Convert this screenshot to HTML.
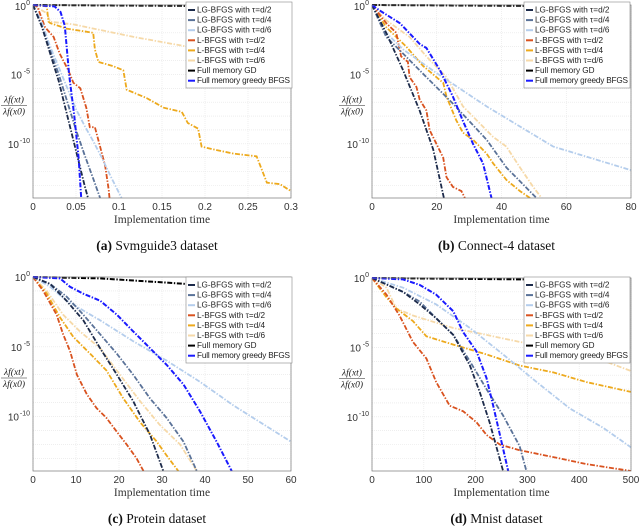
<!DOCTYPE html>
<html><head><meta charset="utf-8">
<style>
body{margin:0;background:#fff;width:640px;height:528px;overflow:hidden}
svg{display:block}
text{font-family:"Liberation Sans",sans-serif}
.serif{font-family:"Liberation Serif",serif}
</style></head>
<body>
<svg id="fig" width="640" height="528" viewBox="0 0 640 528"></svg>
<script>
// ---- data: each series is [x, log10(ratio)] pairs ----
const seriesNames = ["LG-BFGS with \u03c4=d/2","LG-BFGS with \u03c4=d/4","LG-BFGS with \u03c4=d/6","L-BFGS with \u03c4=d/2","L-BFGS with \u03c4=d/4","L-BFGS with \u03c4=d/6","Full memory GD","Full memory greedy BFGS"];
const seriesKeys = ["lg-d2","lg-d4","lg-d6","l-d2","l-d4","l-d6","gd","greedy"];

const aXTicks = [0,0.05,0.1,0.15,0.2,0.25,0.3];
const aLG2 = [[0,0],[0.01,-1.5],[0.02,-3.5],[0.03,-5.5],[0.04,-8],[0.05,-10.5],[0.06,-13],[0.064,-13.9]];
const aLG4 = [[0,0],[0.01,-1.5],[0.02,-3.3],[0.03,-5],[0.04,-7],[0.05,-9],[0.06,-10.8],[0.07,-12.5],[0.078,-13.9]];
const aLG6 = [[0,0],[0.01,-1.2],[0.02,-3],[0.03,-4.5],[0.04,-6],[0.05,-7.5],[0.06,-8.7],[0.07,-9.8],[0.08,-11],[0.09,-12.3],[0.103,-13.9]];
const aL2 = [[0,0],[0.005,-0.1],[0.014,-1.6],[0.024,-2.3],[0.031,-3.5],[0.041,-4.7],[0.047,-5.6],[0.055,-6],[0.062,-7.4],[0.066,-8.8],[0.072,-8.8],[0.078,-10.2],[0.084,-11.6],[0.088,-13.3],[0.089,-13.9]];
const aL4 = [[0,0],[0.016,-0.1],[0.018,-1.2],[0.02,-1.3],[0.039,-1.7],[0.06,-1.9],[0.07,-2],[0.072,-3.2],[0.076,-4.1],[0.093,-4.4],[0.105,-4.7],[0.109,-6.1],[0.132,-6.7],[0.152,-7.4],[0.173,-7.7],[0.18,-8.5],[0.192,-8.9],[0.196,-10.2],[0.21,-10.4],[0.233,-10.7],[0.26,-10.9],[0.272,-12.8],[0.287,-12.9],[0.3,-13.4]];
const aL6 = [[0,0],[0.016,-0.6],[0.02,-1.2],[0.047,-1.4],[0.117,-2.3],[0.18,-3],[0.3,-4.5]];
const aGD = [[0,0],[0.3,-0.1]];
const aGR = [[0,0],[0.025,-0.1],[0.032,-0.5],[0.037,-1.5],[0.042,-5],[0.048,-8],[0.053,-11],[0.056,-13.9]];

const bXTicks = [0,20,40,60,80];
const bLG2 = [[0,0],[4.4,-2],[9.6,-4.7],[14.7,-7.6],[18.9,-10.4],[22.2,-13.9]];
const bLG4 = [[0,0],[4.4,-2.3],[9.6,-3.5],[14.7,-4.7],[25,-7.1],[35.4,-9.7],[41.5,-11.7],[50.8,-13.9]];
const bLG6 = [[0,0],[4.4,-2],[9.6,-3.2],[19.9,-4.9],[35.4,-7.3],[56,-10.2],[80,-11.9]];
const bL2 = [[0,0],[4.4,-1.3],[7.5,-2],[8,-2.6],[9,-3.7],[11.1,-4.1],[11.6,-5.2],[13.7,-5.9],[14.7,-6.8],[16.8,-7.6],[17.8,-9],[19.9,-10],[22,-11],[23,-12.4],[25,-13.1],[27.6,-13.4],[28.7,-13.9]];
const bL4 = [[0,0],[4.4,-1.6],[10.6,-3],[15.8,-4.4],[22,-5.6],[23,-6.6],[26,-8.3],[28.1,-9.2],[31.2,-9.7],[35.4,-10.7],[37.4,-11.4],[41.5,-12.6],[45.7,-13.4],[48.8,-13.9]];
const bL6 = [[0,0],[4.4,-1.1],[11.6,-2.3],[16.8,-3.7],[23,-5.2],[28.1,-7.3],[32.3,-8.3],[37.4,-9.5],[41.5,-10.2],[45.7,-11.7],[49.8,-13.1],[52.4,-13.9]];
const bGD = [[0,0],[80,-0.1]];
const bGR = [[0,0],[2.4,-0.4],[8.6,-1.3],[14.7,-2.8],[16.8,-3.1],[21,-4.7],[25,-6.6],[28,-8.3],[31.2,-10],[34.3,-11.4],[36.9,-13.9]];

const cXTicks = [0,10,20,30,40,50,60];
const cLG2 = [[0,0],[4,-0.5],[7.8,-1.7],[11.7,-3.1],[15.6,-5.1],[19.5,-7],[23.3,-8.9],[27.2,-11.3],[30.3,-13.9]];
const cLG4 = [[0,0],[4,-0.5],[7.8,-1.4],[11.7,-2.7],[15.6,-4.1],[19.5,-5.5],[23.3,-7],[27.2,-8.7],[31.1,-10.1],[35,-11.8],[38.1,-13.9]];
const cLG6 = [[0,0],[4,-0.7],[7.8,-1.7],[15.6,-3.1],[23.3,-4.6],[31.1,-6],[38.8,-7.5],[46.6,-9.2],[60,-11.8]];
const cL2 = [[0,0],[2.4,-1],[5.5,-2.7],[7,-4.1],[8.6,-5.3],[10.2,-7],[12.5,-8.4],[14.8,-9.4],[17.1,-10.1],[19.5,-11.1],[21.8,-12],[24.1,-13],[25.7,-13.9]];
const cL4 = [[0,0],[3.2,-1.2],[6.3,-2.9],[9.4,-4.3],[13.3,-5.5],[17.1,-6.7],[21,-8.7],[24.9,-10.4],[28.8,-11.8],[31.1,-12.8],[33.8,-13.9]];
const cL6 = [[0,0],[3.2,-1],[7,-2.7],[10.9,-3.9],[15.6,-5.1],[20.2,-7],[24.9,-8.9],[29.5,-10.6],[34.2,-12],[38.1,-13.9]];
const cGD = [[0,0],[15.6,-0.1],[31,-0.4],[35.7,-0.5],[60,-0.7]];
const cGR = [[0,0],[6.3,-0.1],[8.6,-0.7],[11.7,-1.2],[15.6,-1.7],[19.5,-2.7],[23.3,-3.9],[27.2,-5.1],[31.1,-6.3],[35,-7.7],[38.8,-9.6],[42.7,-11.8],[46.2,-13.9]];

const dXTicks = [0,100,200,300,400,500];
const dLG2 = [[0,0],[60,-1],[92,-1.9],[124,-2.9],[157,-4.1],[189,-6.3],[208,-8.2],[227,-10.4],[253,-13.9]];
const dLG4 = [[0,0],[60,-1],[92,-1.7],[124,-2.9],[157,-4.1],[189,-6],[221,-8],[253,-9.9],[285,-12.1],[298,-13.9]];
const dLG6 = [[0,0],[60,-0.7],[124,-1.9],[189,-3.6],[253,-5.5],[318,-7.5],[382,-9.4],[447,-10.8],[500,-12.2]];
const dL2 = [[0,0],[28,-1.2],[53,-2.7],[79,-4.6],[105,-5.8],[124,-7.5],[150,-9.2],[176,-9.6],[202,-10.4],[221,-11.3],[247,-12],[285,-12.4],[350,-12.9],[414,-13.4],[500,-13.9]];
const dL4 = [[0,0],[28,-1.4],[47,-2.2],[79,-3.1],[105,-4.2],[157,-4.8],[221,-5.5],[285,-6.3],[350,-6.8],[414,-7.5],[500,-8.2]];
const dL6 = [[0,0],[28,-0.7],[47,-2.2],[79,-2.7],[157,-3.6],[221,-4.1],[285,-4.6],[350,-5],[414,-5.5],[500,-6.7]];
const dGD = [[0,0],[292,-0.1],[500,-0.15]];
const dGR = [[0,0],[60,-0.1],[92,-0.5],[124,-1.2],[157,-2.4],[176,-3.9],[202,-5.3],[221,-7.2],[234,-9.2],[250,-11.8],[263,-13.9]];

const yTickVals = [0,-5,-10];
// ---- layout ----
const colors = ["#1c2a4a","#5a7298","#b4cdec","#d9521f","#eda91c","#f6d9a8","#000000","#1a1aff"];
const panels = [
  {id:"a",cap:"Svmguide3 dataset",x0:33,x1:291,y0:5,y1:198,xmax:0.3,ticks:aXTicks,s:[aLG2,aLG4,aLG6,aL2,aL4,aL6,aGD,aGR],lg:[186,2],fx:14},
  {id:"b",cap:"Connect-4 dataset",x0:372,x1:631,y0:5,y1:198,xmax:80,ticks:bXTicks,s:[bLG2,bLG4,bLG6,bL2,bL4,bL6,bGD,bGR],lg:[524,2],fx:352},
  {id:"c",cap:"Protein dataset",x0:33,x1:291,y0:277,y1:471,xmax:60,ticks:cXTicks,s:[cLG2,cLG4,cLG6,cL2,cL4,cL6,cGD,cGR],lg:[186,277],fx:14},
  {id:"d",cap:"Mnist dataset",x0:372,x1:631,y0:278,y1:471,xmax:500,ticks:dXTicks,s:[dLG2,dLG4,dLG6,dL2,dL4,dL6,dGD,dGR],lg:[524,277],fx:352}
];
const YMIN=-13.9;
const NS="http://www.w3.org/2000/svg";
const svg=document.getElementById("fig");
function mk(tag,attrs,parent){const e=document.createElementNS(NS,tag);for(const k in attrs)e.setAttribute(k,attrs[k]);(parent||svg).appendChild(e);return e;}

panels.forEach(p=>{
  const g=mk("g",{});
  
  
  const xs=v=>p.x0+(v/p.xmax)*(p.x1-p.x0);
  const ys=v=>p.y0+(v/YMIN)*(p.y1-p.y0);
  mk("rect",{x:p.x0,y:p.y0,width:p.x1-p.x0,height:p.y1-p.y0,fill:"#fff"},g);
  p.ticks.forEach(t=>{const l=mk("line",{x1:xs(t),x2:xs(t),y1:p.y0,y2:p.y1,stroke:"#e4e4e4","stroke-width":0.6,"stroke-dasharray":"1,1"},g);
    
    });
  for(let d=-1;d>=-13;d--){const l=mk("line",{x1:p.x0,x2:p.x1,y1:ys(d),y2:ys(d),stroke:"#e4e4e4","stroke-width":0.6,"stroke-dasharray":"1,1"},g);
    
    }
  const clipId="clip"+p.id;
  const cp=mk("clipPath",{id:clipId},g);mk("rect",{x:p.x0,y:p.y0-2,width:p.x1-p.x0,height:p.y1-p.y0+2},cp);
  [6,5,4,3,2,1,0,7].forEach(i=>{
    const pts=p.s[i].map(q=>xs(q[0]).toFixed(1)+","+ys(q[1]).toFixed(1)).join(" ");
    const pl=mk("polyline",{points:pts,fill:"none",stroke:colors[i],"stroke-width":i==7||i==6?2:1.8,"stroke-dasharray":"5,1.6,1.4,1.6","clip-path":"url(#"+clipId+")"},g);
    
    
  });
  const fr=mk("rect",{x:p.x0,y:p.y0,width:p.x1-p.x0,height:p.y1-p.y0,fill:"none",stroke:"#777","stroke-width":0.7},g);
  
  
  p.ticks.forEach(t=>{const tx=mk("text",{x:xs(t),y:p.y1+12,"font-size":10,"text-anchor":"middle",fill:"#333"},g);tx.textContent=t;
    
    });
  yTickVals.forEach(v=>{const by=Math.max(ys(v)+4,10);
    const tx=mk("text",{x:p.x0-3-(v<0?(v<-9?11:8):4),y:by,"font-size":10,"text-anchor":"end",fill:"#333"},g);tx.textContent="10";
    
    
    const sup=mk("text",{x:p.x0-3,y:by-5,"font-size":7,"text-anchor":"end",fill:"#333"},g);sup.textContent=v;
    
    });
  const cy=(p.y0+p.y1)/2+4;
  const n=mk("text",{x:p.fx,y:cy-3,"font-size":9.5,"text-anchor":"middle","font-style":"italic",class:"serif",fill:"#222"},g);n.textContent="\u03bbf(xt)";
  
  
  mk("line",{x1:p.fx-13,x2:p.fx+13,y1:cy,y2:cy,stroke:"#222","stroke-width":0.6},g);
  const dn=mk("text",{x:p.fx,y:cy+9,"font-size":9.5,"text-anchor":"middle","font-style":"italic",class:"serif",fill:"#222"},g);dn.textContent="\u03bbf(x0)";
  
  
  const xl=mk("text",{x:(p.x0+p.x1)/2,y:p.y1+25,"font-size":11.5,"text-anchor":"middle",class:"serif",fill:"#333"},g);xl.textContent="Implementation time";
  
  
  const cap=mk("text",{x:(p.x0+p.x1)/2-5,y:p.y1+52,"font-size":13.5,"text-anchor":"middle",class:"serif",fill:"#111"},g);
  
  
  const b=mk("tspan",{"font-weight":"bold"},cap);b.textContent="("+p.id+")";
  const r=mk("tspan",{},cap);r.textContent=" "+p.cap;
  const [lx,ly]=p.lg;
  const lgG=mk("g",{},g);
  
  
  mk("rect",{x:lx,y:ly,width:106,height:86,fill:"#fff",stroke:"#888","stroke-width":0.6},lgG);
  seriesNames.forEach((nm,i)=>{
    const yy=ly+10.5+i*10.1;
    const ent=mk("g",{},lgG);
    
    
    mk("line",{x1:lx+2,x2:lx+9,y1:yy-2.5,y2:yy-2.5,stroke:colors[i],"stroke-width":2},ent);
    const t=mk("text",{x:lx+11,y:yy,"font-size":8.2,fill:"#222",textLength:i==7?93:null},ent);t.textContent=nm;
    if(i!=7)t.removeAttribute("textLength");
  });
});
</script>
</body></html>
